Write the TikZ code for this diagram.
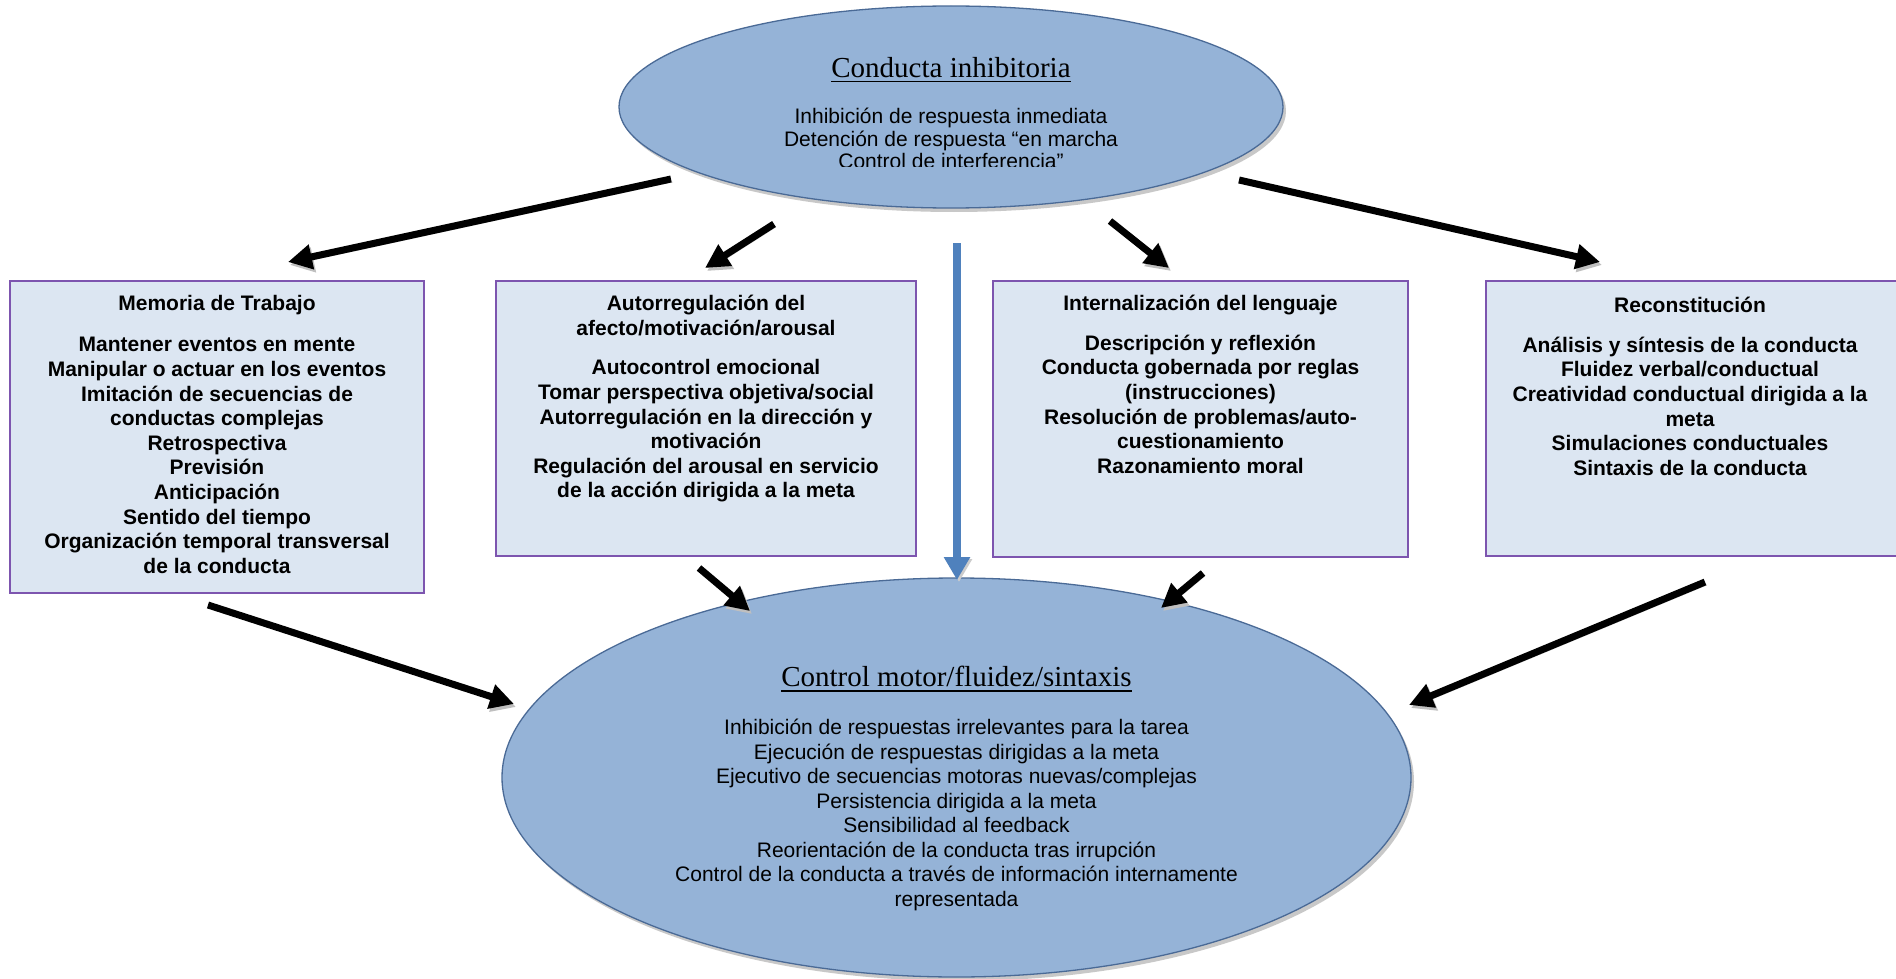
\documentclass[tikz,border=0pt]{standalone}
\usepackage{fontspec}
\setmainfont{Liberation Sans}
\newfontfamily\titlefont{Liberation Serif}
\usetikzlibrary{shapes.geometric,arrows.meta,shadows}

\definecolor{ovalfill}{RGB}{149,179,215}
\definecolor{ovaldraw}{RGB}{74,106,150}
\definecolor{panelfill}{RGB}{220,230,242}
\definecolor{paneldraw}{RGB}{125,85,175}
\definecolor{flowblue}{RGB}{79,129,189}

% underlined serif heading with a thick rule
\newcommand\ultitle[1]{{\titlefont\fontsize{29}{32}\selectfont
  \setbox0\hbox{#1}\rlap{\rule[-5pt]{\wd0}{1.8pt}}\box0}}
\newcommand\topstrut{\rule{0pt}{20pt}}

\begin{document}
\begin{tikzpicture}[x=1pt,y=-1pt,
  oval/.style={ellipse, draw=ovaldraw, line width=1.3pt, fill=ovalfill, inner sep=0pt,
    drop shadow={shadow xshift=3pt, shadow yshift=-4pt, opacity=0.3, fill=black!70}},
  panel/.style={rectangle, draw=paneldraw, line width=2pt, fill=panelfill, inner sep=0pt},
  paneltext/.style={font=\fontsize{21}{24.6}\selectfont\bfseries, align=center, inner sep=0pt, anchor=north},
  ovaltext/.style={font=\fontsize{21}{#1}\selectfont, align=center, inner sep=0pt, anchor=north},
  ovaltitle/.style={inner sep=0pt, anchor=base},
  bigarrow/.style={line width=7pt, black, -{Triangle[width=24pt,length=24pt]},
    preaction={draw=black!25, transform canvas={shift={(2pt,-3pt)}}}},
  downarrow/.style={line width=8pt, flowblue, -{Triangle[width=25pt,length=23pt]},
    preaction={draw=black!20, transform canvas={shift={(2pt,-2pt)}}}}
]
\useasboundingbox[fill=white] (0,0) rectangle (1896,979);

% top oval: inhibitory behaviour
\node[oval, minimum width=664pt, minimum height=202pt] (inh) at (951,107) {};
\node[ovaltitle] (inhtitle) at (951,77.5) {\ultitle{Conducta inhibitoria}};
\begin{scope}
  \clip (600,0) rectangle (1300,166.5);
  \node[ovaltext=22.5] (inhitems) at (951,103.5) {\topstrut Inhibición de respuesta inmediata\\
    Detención de respuesta “en marcha\\
    Control de interferencia”};
\end{scope}

% four executive-function panels
\node[panel, minimum width=414pt, minimum height=312pt] (wm) at (217,437) {};
\node[panel, minimum width=420pt, minimum height=275pt] (aff) at (706,418.5) {};
\node[panel, minimum width=415pt, minimum height=276pt] (lang) at (1200.5,418.5) {};
\node[panel, minimum width=412pt, minimum height=275pt] (rec) at (1692,418.5) {};

\node[paneltext] (wmtext) at (217,290.5) {\topstrut Memoria de Trabajo\\[16.5pt]
  Mantener eventos en mente\\
  Manipular o actuar en los eventos\\
  Imitación de secuencias de\\
  conductas complejas\\
  Retrospectiva\\
  Previsión\\
  Anticipación\\
  Sentido del tiempo\\
  Organización temporal transversal\\
  de la conducta};

\node[paneltext] (afftext) at (706,290.5) {\topstrut Autorregulación del\\
  afecto/motivación/arousal\\[15pt]
  Autocontrol emocional\\
  Tomar perspectiva objetiva/social\\
  Autorregulación en la dirección y\\
  motivación\\
  Regulación del arousal en servicio\\
  de la acción dirigida a la meta};

\node[paneltext] (langtext) at (1200.5,290.5) {\topstrut Internalización del lenguaje\\[15pt]
  Descripción y reflexión\\
  Conducta gobernada por reglas\\
  (instrucciones)\\
  Resolución de problemas/auto-\\
  cuestionamiento\\
  Razonamiento moral};

\node[paneltext] (rectext) at (1690,292) {\topstrut Reconstitución\\[15.5pt]
  Análisis y síntesis de la conducta\\
  Fluidez verbal/conductual\\
  Creatividad conductual dirigida a la\\
  meta\\
  Simulaciones conductuales\\
  Sintaxis de la conducta};

% bottom oval: motor control
\node[oval, minimum width=909pt, minimum height=399pt] (mot) at (956.5,777.5) {};
\node[ovaltitle] (mottitle) at (956.5,686.5) {\ultitle{Control motor/fluidez/sintaxis}};
\node[ovaltext=24.5] (motitems) at (956.5,714.5) {\topstrut Inhibición de respuestas irrelevantes para la tarea\\
  Ejecución de respuestas dirigidas a la meta\\
  Ejecutivo de secuencias motoras nuevas/complejas\\
  Persistencia dirigida a la meta\\
  Sensibilidad al feedback\\
  Reorientación de la conducta tras irrupción\\
  Control de la conducta a través de información internamente\\
  representada};

% arrow end points
\coordinate (a1s) at (671,179);  \coordinate (a1e) at (288,262);
\coordinate (a2s) at (774,224);  \coordinate (a2e) at (705,268);
\coordinate (a3s) at (957,243);  \coordinate (a3e) at (957,580);
\coordinate (a4s) at (1110,221); \coordinate (a4e) at (1169,268);
\coordinate (a5s) at (1239,180); \coordinate (a5e) at (1600,262);
\coordinate (b1s) at (208,605);  \coordinate (b1e) at (514,704);
\coordinate (b2s) at (699,568);  \coordinate (b2e) at (750,611);
\coordinate (b3s) at (1203,573); \coordinate (b3e) at (1161,608);
\coordinate (b4s) at (1705,582); \coordinate (b4e) at (1409,705);

\draw[bigarrow] (a1s) -- (a1e);
\draw[bigarrow] (a2s) -- (a2e);
\draw[downarrow] (a3s) -- (a3e);
\draw[bigarrow] (a4s) -- (a4e);
\draw[bigarrow] (a5s) -- (a5e);
\draw[bigarrow] (b1s) -- (b1e);
\draw[bigarrow] (b2s) -- (b2e);
\draw[bigarrow] (b3s) -- (b3e);
\draw[bigarrow] (b4s) -- (b4e);
\end{tikzpicture}
\end{document}
